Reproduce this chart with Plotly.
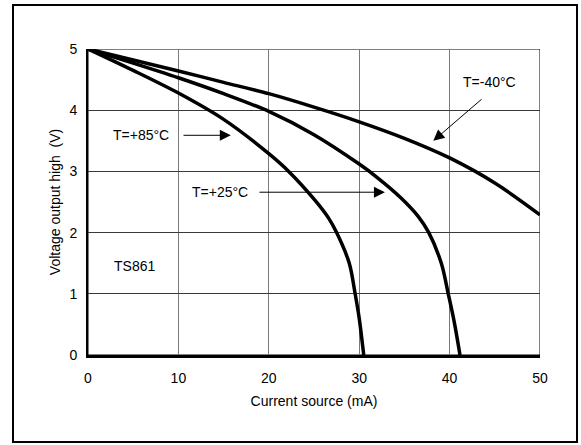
import plotly.graph_objects as go

# Data (Current source in mA, Voltage output high in V)
x_m40 = [0, 5, 10, 15, 20, 25, 30, 35, 40, 45, 50]
y_m40 = [5, 4.82, 4.64, 4.455, 4.27, 4.05, 3.81, 3.54, 3.22, 2.81, 2.29]

x_p25 = [0, 5, 10, 15, 20, 25, 30, 32, 34.6, 36.5, 37.7, 39.1, 39.85, 40.5, 41.15]
y_p25 = [5, 4.77, 4.53, 4.27, 3.98, 3.60, 3.12, 2.90, 2.57, 2.27, 2.0, 1.49, 1.0, 0.55, 0]

x_p85 = [0, 5, 10, 15, 20, 22.2, 25.1, 26.6, 27.5, 28.9, 29.55, 30.0, 30.5]
y_p85 = [5, 4.65, 4.28, 3.85, 3.29, 3.0, 2.53, 2.24, 2.0, 1.5, 1.0, 0.6, 0]

x_ticks = [0, 10, 20, 30, 40, 50]
y_ticks = [0, 1, 2, 3, 4, 5]

FONT = "Liberation Sans, Arial, sans-serif"

fig = go.Figure()
for xs, ys in [(x_m40, y_m40), (x_p25, y_p25), (x_p85, y_p85)]:
    fig.add_trace(go.Scatter(x=xs, y=ys, mode="lines",
                             line=dict(color="black", width=3.5, shape="spline", smoothing=0.9),
                             showlegend=False, hoverinfo="skip"))

L, R, T, B = 88, 41, 49, 90
W, H = 581, 445
pw, ph = W - L - R, H - T - B

fig.update_layout(
    width=W, height=H,
    margin=dict(l=L, r=R, t=T, b=B),
    paper_bgcolor="white", plot_bgcolor="white",
    font=dict(family=FONT, size=14, color="black"),
    xaxis=dict(range=[0, 50], tickvals=x_ticks, showgrid=True, gridcolor="#7a7a7a", gridwidth=1.3,
               zeroline=False, showline=True, linecolor="black", linewidth=2.5,
               ticks="", ticklabelstandoff=8, tickfont=dict(size=14),
               title=dict(text="Current source (mA)", standoff=12, font=dict(size=14))),
    yaxis=dict(range=[0, 5], tickvals=y_ticks, showgrid=True, gridcolor="#3a3a3a", gridwidth=1,
               zeroline=False, showline=True, linecolor="black", linewidth=2,
               ticks="", ticklabelstandoff=6, tickfont=dict(size=14),
               title=dict(text="Voltage output high  (V)", standoff=6, font=dict(size=14))),
)

# thin top/right frame
fig.add_shape(type="rect", xref="x", yref="y", x0=0, x1=50, y0=0, y1=5,
              line=dict(color="black", width=1), layer="below")

# outer border
fig.add_shape(type="rect", xref="paper", yref="paper",
              x0=(13 - L) / pw, x1=(577 - L) / pw,
              y0=(H - B - 442) / ph, y1=(H - B - 5) / ph,
              line=dict(color="black", width=2))

labels = [
    ("T=+85°C", 5.86, 3.59),
    ("T=+25°C", 14.6, 2.66),
    ("T=-40°C", 44.4, 4.46),
    ("TS861", 5.1, 1.45),
]
for txt, xx, yy in labels:
    fig.add_annotation(x=xx, y=yy, text=txt, showarrow=False, xref="x", yref="y",
                       font=dict(family=FONT, size=14, color="black"))

arrows = [
    (10.4, 3.59, 15.8, 3.59),
    (18.8, 2.66, 32.85, 2.66),
    (43.7, 4.20, 38.2, 3.50),
]
for ax, ay, x, y in arrows:
    fig.add_annotation(x=x, y=y, ax=ax, ay=ay, xref="x", yref="y", axref="x", ayref="y",
                       text="", showarrow=True, arrowhead=2, arrowsize=2.2, arrowwidth=1,
                       arrowcolor="black")

fig.write_html("out.html")
